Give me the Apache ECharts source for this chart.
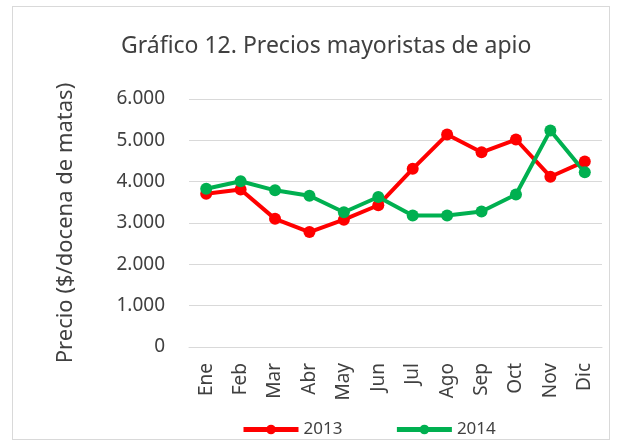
<!DOCTYPE html>
<html>
<head>
<meta charset="utf-8">
<script src="https://cdn.jsdelivr.net/npm/echarts@6/dist/echarts.min.js"></script>
<style>
html, body { margin: 0; padding: 0; background: #fff; }
#frame {
  position: absolute; left: 12px; top: 6px; width: 596px; height: 432px;
  border: 1px solid #d9d9d9;
}
#chart { position: absolute; left: 0; top: 0; width: 618px; height: 447px; }
</style>
</head>
<body>
<div id="frame"></div>
<div id="chart"></div>
<script>
// meses
var months = ["Ene", "Feb", "Mar", "Abr", "May", "Jun", "Jul", "Ago", "Sep", "Oct", "Nov", "Dic"];
// precios 2013
var precios2013 = [3710, 3810, 3100, 2780, 3080, 3430, 4310, 5140, 4710, 5020, 4120, 4490];
// precios 2014
var precios2014 = [3830, 4010, 3790, 3660, 3260, 3630, 3180, 3180, 3280, 3690, 5240, 4230];

var font = "Noto Sans";

function fmt(v) {
  return String(v).replace(/\B(?=(\d{3})+(?!\d))/g, ".");
}

var chart = echarts.init(document.getElementById("chart"));
chart.setOption({
  animation: false,
  title: {
    text: "Gráfico 12. Precios mayoristas de apio",
    left: 116,
    top: 30,
    textStyle: { fontFamily: font, fontSize: 23, fontWeight: "normal", color: "#404040" }
  },
  legend: {
    top: 416,
    left: 236,
    itemWidth: 55,
    itemHeight: 12,
    itemGap: 52,
    lineStyle: { width: 5 },
    textStyle: { fontFamily: font, fontSize: 17, color: "#404040" },
    data: ["2013", "2014"]
  },
  grid: { left: 189, right: 16, top: 99, bottom: 100 },
  xAxis: {
    type: "category",
    data: months,
    axisLine: { lineStyle: { color: "#d9d9d9" } },
    axisTick: { show: false },
    axisLabel: { rotate: 90, fontFamily: font, fontSize: 19, color: "#404040", margin: 16 }
  },
  yAxis: {
    type: "value",
    min: 0,
    max: 6000,
    interval: 1000,
    name: "Precio ($/docena de matas)",
    nameLocation: "middle",
    nameGap: 112,
    nameTextStyle: { fontFamily: font, fontSize: 22, color: "#404040" },
    axisLabel: { formatter: fmt, fontFamily: font, fontSize: 19, color: "#404040", margin: 24 },
    splitLine: { lineStyle: { color: "#d9d9d9", width: 1 } }
  },
  series: [
    {
      name: "2013",
      type: "line",
      data: precios2013,
      color: "#ff0000",
      lineStyle: { width: 4 },
      symbol: "circle",
      symbolSize: 12
    },
    {
      name: "2014",
      type: "line",
      data: precios2014,
      color: "#00b050",
      lineStyle: { width: 4 },
      symbol: "circle",
      symbolSize: 12
    }
  ]
});
</script>
</body>
</html>
